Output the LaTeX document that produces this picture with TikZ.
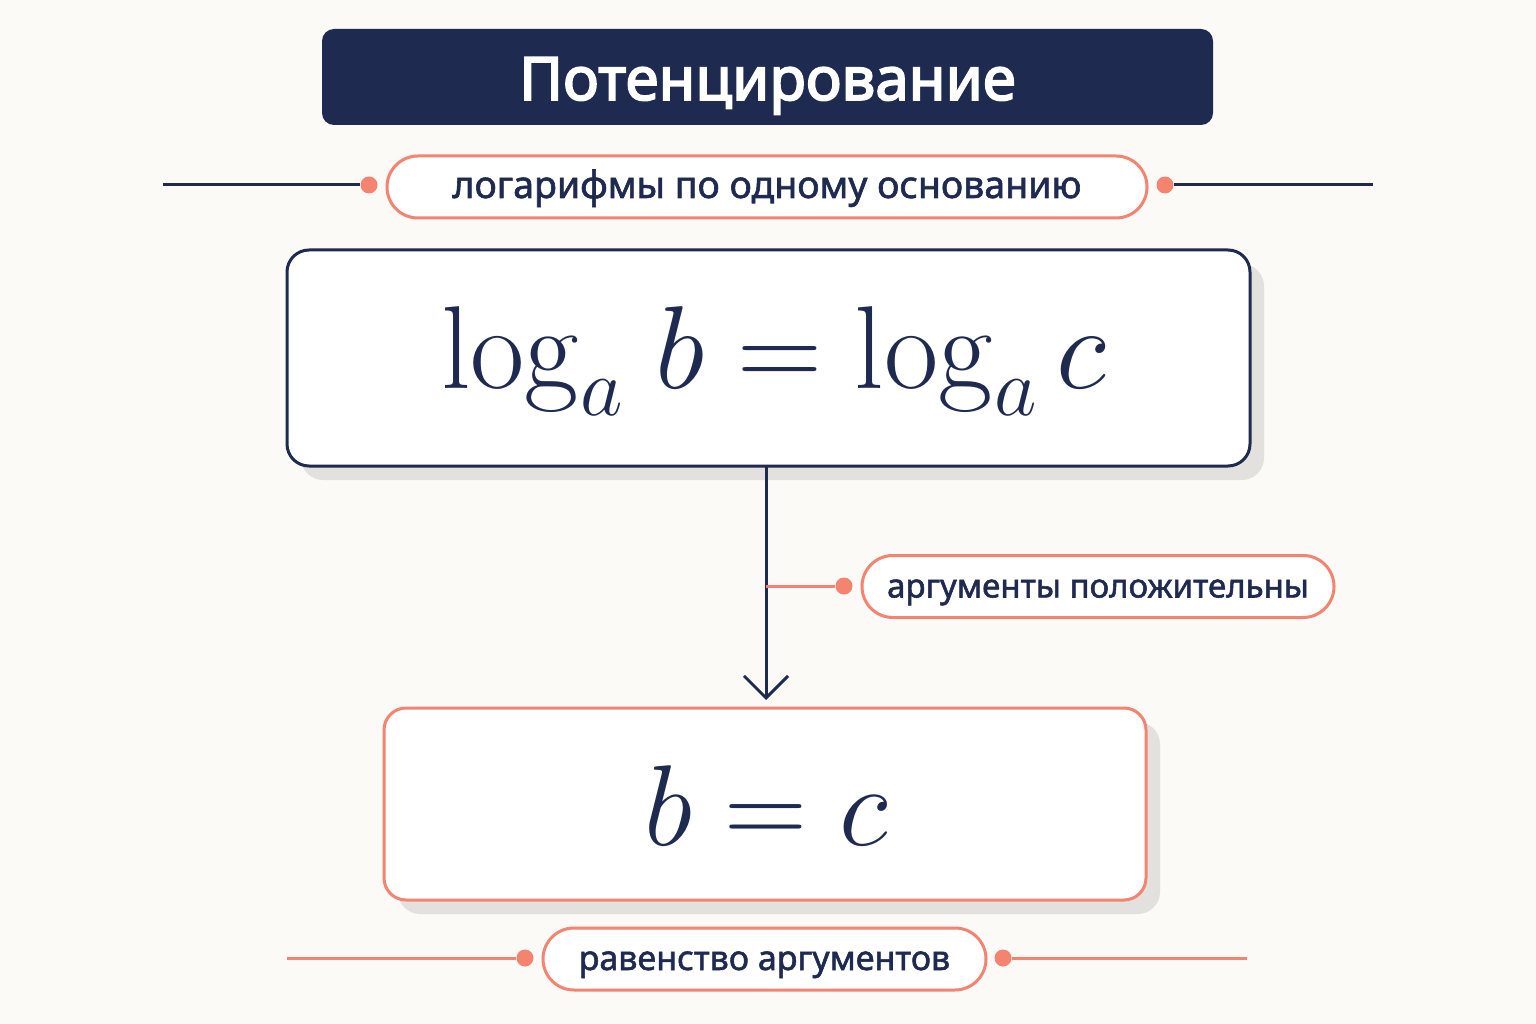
\documentclass[tikz,border=0pt]{standalone}
\usepackage{fix-cm}
\usepackage[no-math]{fontspec}
\setmainfont{Noto Sans}
\newfontfamily\labfont{Noto Sans}[FakeBold=1.6]
\newfontfamily\titlefont{Noto Sans}[FakeBold=3]
\usetikzlibrary{arrows.meta}
\definecolor{navy}{HTML}{1F2A50}
\definecolor{salmon}{HTML}{F4836F}
\definecolor{bgc}{HTML}{FBFAF7}
\definecolor{shadowc}{HTML}{E2E1DE}
\tikzset{
  titlebox/.style={fill=navy, rounded corners=12pt, inner sep=0pt, text=white,
    text height=46pt, text depth=0pt,
    font=\titlefont\fontsize{60}{62}\selectfont},
  pill/.style={draw=salmon, line width=3pt, fill=white, inner sep=0pt, text=navy,
    text height=22pt, text depth=0pt, rounded corners=31pt, minimum height=62pt},
  mainbox/.style={line width=3pt, fill=white, rounded corners=22pt, inner sep=0pt},
  shadowbox/.style={fill=shadowc, rounded corners=22pt, inner sep=0pt},
  dot/.style={circle, fill=salmon, minimum size=17pt, inner sep=0pt},
  navyline/.style={draw=navy, line width=3pt},
  salline/.style={draw=salmon, line width=3pt},
  formula/.style={text=navy, inner sep=0pt, anchor=base}
}
\begin{document}
\begin{tikzpicture}[x=1pt,y=-1pt]
\fill[bgc] (0,0) rectangle (1536,1024);
\useasboundingbox (0,0) rectangle (1536,1024);

% title
\node[titlebox, minimum width=891pt, minimum height=96pt] (title) at (767.5,77) {Потенцирование};

% first label row
\node[pill, minimum width=760pt, font=\labfont\fontsize{37.5}{40}\selectfont] (p1) at (767,187) {логарифмы по одному основанию};
\node[dot] (d1l) at (369,185) {};
\node[dot] (d1r) at (1165,185) {};
\coordinate (e1l) at (163,185);
\coordinate (e1r) at (1373,185);
\draw[navyline] (e1l) -- (d1l);
\draw[navyline] (d1r) -- (e1r);

% box 1
\node[shadowbox, minimum width=963pt, minimum height=216pt] (s1) at (782.5,372) {};
\node[mainbox, draw=navy, minimum width=963pt, minimum height=216pt] (b1) at (768.5,358) {};
\node[formula, font=\fontsize{118}{130}\selectfont] (f1) at (774,388) {$\log_a\hspace{12pt} b = \log_a c$};

% box 2
\node[shadowbox, minimum width=762pt, minimum height=192pt] (s2) at (779,818) {};
\node[mainbox, draw=salmon, minimum width=762pt, minimum height=192pt] (b2) at (765,804) {};
\node[formula, font=\fontsize{115}{130}\selectfont] (f2) at (766,845) {$b = c$};

% arrow
\coordinate (atop) at (766,466);
\coordinate (abot) at (766,700);
\coordinate (abr) at (766,586);
\draw[navyline, -{Straight Barb[length=22pt,width=44pt,line width=3pt]}] (atop) -- (abot);

% side label
\node[pill, minimum width=472pt, font=\labfont\fontsize{33}{40}\selectfont] (p2) at (1098,586.5) {аргументы положительны};
\node[dot] (d2) at (844,586) {};
\draw[salline] (abr) -- (d2);

% bottom label row
\node[pill, minimum width=443pt, font=\labfont\fontsize{34}{40}\selectfont] (p3) at (764.5,959) {равенство аргументов};
\node[dot] (d3l) at (525,958) {};
\node[dot] (d3r) at (1003,958) {};
\coordinate (e3l) at (287,958);
\coordinate (e3r) at (1247,958);
\draw[salline] (e3l) -- (d3l);
\draw[salline] (d3r) -- (e3r);
\end{tikzpicture}
\end{document}
